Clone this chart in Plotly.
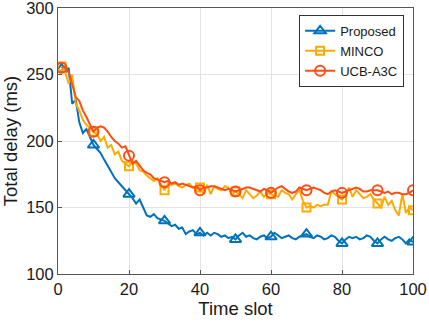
import plotly.graph_objects as go

time_slot = list(range(1, 101))
marker_idx = [1, 10, 20, 30, 40, 50, 60, 70, 80, 90, 100]

proposed = [254, 252, 255, 228, 231, 214, 206, 209, 203, 197,
            194, 191, 186, 181, 177, 172, 169, 166, 163, 160,
            157, 153, 156, 150, 144, 143, 145, 142, 141, 140,
            138, 136, 137, 134, 135, 130, 132, 133, 130, 131,
            129, 131, 129, 131, 130, 128, 129, 127, 128, 126,
            129, 131, 128, 129, 127, 126, 128, 129, 127, 128,
            131, 129, 127, 128, 129, 127, 126, 128, 129, 130,
            128, 127, 129, 128, 126, 127, 129, 128, 125, 123,
            126, 128, 127, 128, 126, 127, 129, 128, 125, 123,
            126, 128, 126, 125, 127, 128, 126, 123, 126, 124]

minco = [256, 252, 243, 250, 228, 223, 216, 212, 210, 207,
         205, 200, 203, 195, 197, 190, 192, 185, 183, 181,
         185, 183, 178, 177, 174, 172, 170, 172, 168, 163,
         168, 167, 168, 166, 165, 167, 168, 165, 164, 165,
         160, 167, 160, 166, 164, 163, 166, 165, 160, 162,
         160, 157, 163, 160, 157, 159, 162, 158, 161, 160,
         159, 158, 163, 161, 160, 156, 160, 163, 155, 150,
         151, 150, 152, 151, 152, 152, 162, 160, 158, 156,
         160, 165, 158, 163, 160, 157, 158, 160, 156, 153,
         150, 158, 152, 155, 148, 144, 160, 146, 150, 148]

ucb = [255, 256, 252, 242, 233, 230, 223, 218, 212, 207,
       210, 211, 210, 207, 203, 200, 198, 195, 196, 189,
       183, 185, 181, 178, 176, 175, 172, 171, 170, 169,
       170, 168, 169, 167, 168, 167, 166, 165, 166, 163,
       165, 165, 166, 166, 165, 164, 163, 164, 163, 162,
       163, 164, 165, 165, 164, 163, 162, 164, 163, 161,
       163, 165, 166, 164, 162, 161, 162, 165, 164, 163,
       164, 165, 164, 163, 161, 160, 162, 163, 162, 161,
       162, 163, 164, 165, 164, 162, 162, 163, 163, 163,
       162, 161, 162, 160, 161, 161, 160, 160, 161, 163]

x_ticks = [0, 20, 40, 60, 80, 100]
y_ticks = [100, 150, 200, 250, 300]

series = [
    ("Proposed", proposed, "#0072BD", "triangle-up-open", 10),
    ("MINCO", minco, "#FFAA00", "square-open", 8),
    ("UCB-A3C", ucb, "#FF4E12", "circle-open", 10),
]

FONT = "Liberation Sans, Arial, sans-serif"

fig = go.Figure()
for name, vals, color, sym, sz in series:
    fig.add_trace(go.Scatter(x=time_slot, y=vals, mode="lines",
                             line=dict(color=color, width=2),
                             showlegend=False, hoverinfo="skip"))
    fig.add_trace(go.Scatter(x=[time_slot[i - 1] for i in marker_idx],
                             y=[vals[i - 1] for i in marker_idx],
                             mode="markers",
                             marker=dict(symbol=sym, size=sz, color=color,
                                         line=dict(color=color, width=2)),
                             showlegend=False))
    fig.add_trace(go.Scatter(x=[None], y=[None], mode="lines+markers", name=name,
                             line=dict(color=color, width=2),
                             marker=dict(symbol=sym, size=sz, color=color,
                                         line=dict(color=color, width=2))))

axis_common = dict(showline=True, linecolor="#555555", linewidth=1, mirror=True,
                   ticks="inside", ticklen=4, tickcolor="#555555",
                   showgrid=True, gridcolor="#e3e3e3", gridwidth=1,
                   zeroline=False, ticklabeloverflow="allow", automargin=False,
                   tickfont=dict(family=FONT, size=16.5, color="#1a1a1a"))

fig.update_xaxes(range=[0, 100], tickvals=x_ticks,
                 title=dict(text="Time slot", font=dict(family=FONT, size=18.5, color="#1a1a1a"),
                            standoff=2),
                 **axis_common)
fig.update_yaxes(range=[100, 300], tickvals=y_ticks,
                 title=dict(text="Total delay (ms)", font=dict(family=FONT, size=18.5, color="#1a1a1a"),
                            standoff=4),
                 **axis_common)

fig.update_layout(
    width=429, height=325,
    margin=dict(l=58, r=16, t=8, b=51),
    paper_bgcolor="white", plot_bgcolor="white",
    legend=dict(x=0.975, y=0.974, xanchor="right", yanchor="top",
                bgcolor="white", bordercolor="#333333", borderwidth=1,
                font=dict(family=FONT, size=13, color="#1a1a1a"),
                tracegroupgap=0, itemwidth=30),
    showlegend=True,
)

fig.write_html("out.html", config={"displayModeBar": False},
               post_script="document.body.style.margin='0';")
